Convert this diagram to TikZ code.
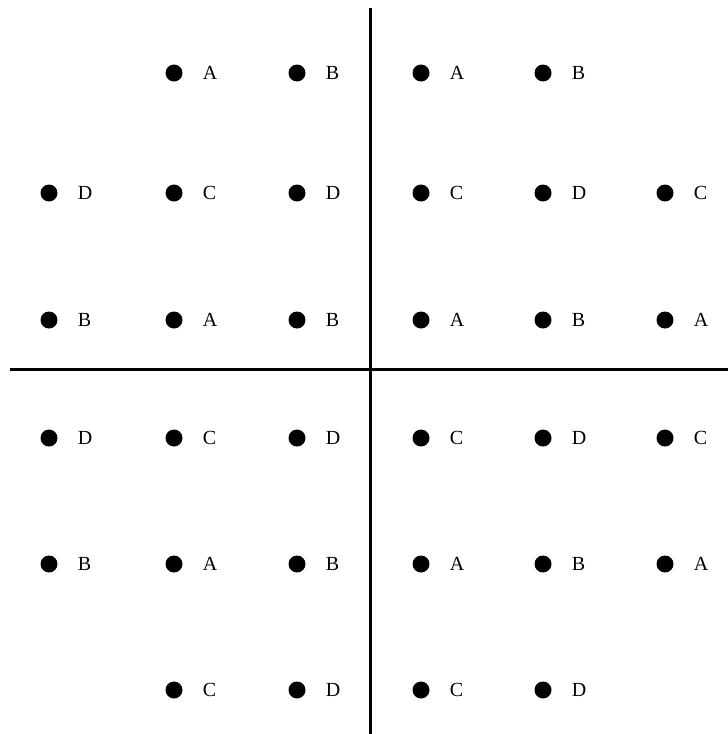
\documentclass[tikz,border=0pt]{standalone}
\usepackage{fontspec}
\setmainfont{Liberation Serif}
\usetikzlibrary{positioning}

\begin{document}
\begin{tikzpicture}[x=1pt, y=-1pt,
  pt/.style={circle, fill=black, inner sep=0pt, minimum size=17pt},
  lab/.style={inner sep=0pt, font=\fontsize{20}{24}\selectfont},
  axis/.style={line width=3pt},
]
  \useasboundingbox (0,0) rectangle (728,734);
  % lattice of labelled points, '-' = empty place
  \foreach \row/\y [count=\r] in {{-,A,B,A,B,-}/73, {D,C,D,C,D,C}/193, {B,A,B,A,B,A}/320,
      {D,C,D,C,D,C}/438, {B,A,B,A,B,A}/564, {-,C,D,C,D,-}/690} {
    \foreach \t [count=\c] in \row {
      \pgfmathsetmacro{\xx}{{49,174,297,421,543,665}[\c-1]}
      \if\t-\else
        \node[pt] (p\r\c) at (\xx,\y) {};
        \node[lab, right=20pt of p\r\c] (l\r\c) {\t};
      \fi
    }
  }
  % the two axes
  \coordinate (vtop) at (370,8);
  \coordinate (vbot) at (370,734);
  \coordinate (hleft) at (10,369);
  \coordinate (hright) at (728,369);
  \draw[axis] (vtop) -- (vbot);
  \draw[axis] (hleft) -- (hright);
\end{tikzpicture}
\end{document}
